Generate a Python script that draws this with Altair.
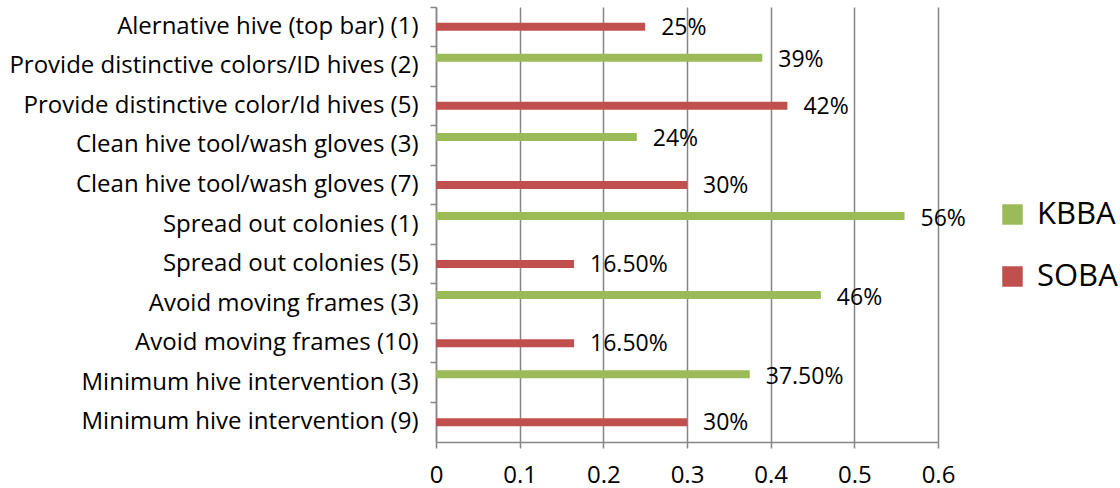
import altair as alt
import pandas as pd

categories = [
    "Alernative hive (top bar) (1)",
    "Provide distinctive colors/ID hives (2)",
    "Provide distinctive color/Id hives (5)",
    "Clean hive tool/wash gloves (3)\u00a0",
    "Clean hive tool/wash gloves (7)",
    "Spread out colonies (1)",
    "Spread out colonies (5)",
    "Avoid moving frames (3)",
    "Avoid moving frames (10)",
    "Minimum hive intervention (3)",
    "Minimum hive intervention (9)",
]
series = ["SOBA", "KBBA", "SOBA", "KBBA", "SOBA", "KBBA", "SOBA", "KBBA", "SOBA", "KBBA", "SOBA"]
values = [0.25, 0.39, 0.42, 0.24, 0.30, 0.56, 0.165, 0.46, 0.165, 0.375, 0.30]
labels = ["25%", "39%", "42%", "24%", "30%", "56%", "16.50%", "46%", "16.50%", "37.50%", "30%"]
x_ticks = [0, 0.1, 0.2, 0.3, 0.4, 0.5, 0.6]

df = pd.DataFrame({"category": categories, "series": series, "value": values, "label": labels})

FONT = "Open Sans"
W, H = 502, 435
FS = 23

y = alt.Y(
    "category:N",
    sort=categories,
    title=None,
    scale=alt.Scale(paddingInner=0, paddingOuter=0),
    axis=alt.Axis(
        bandPosition=0,
        labelFontSize=24,
        labelFont=FONT,
        labelColor="#000000",
        labelPadding=12,
        labelLimit=600,
        tickSize=6,
        tickColor="#868686",
        domainColor="#868686",
        tickWidth=1.5,
        domainWidth=1.5,
        grid=False,
    ),
)
x = alt.X(
    "value:Q",
    title=None,
    scale=alt.Scale(domain=[0, 0.6], nice=False),
    axis=alt.Axis(
        values=x_ticks,
        format="~g",
        labelFlush=False,
        labelFontSize=24,
        labelFont=FONT,
        labelColor="#000000",
        labelPadding=15,
        tickSize=6,
        tickColor="#868686",
        domainColor="#868686",
        gridColor="#868686",
        gridWidth=1.5,
        tickWidth=1.5,
        domainWidth=1.5,
    ),
)
color = alt.Color(
    "series:N",
    scale=alt.Scale(domain=["KBBA", "SOBA"], range=["#9BBB59", "#C0504D"]),
    legend=alt.Legend(
        title=None,
        labelFontSize=31,
        labelFont=FONT,
        labelColor="#000000",
        labelOffset=9,
        symbolType="square",
        symbolSize=420,
        symbolStrokeWidth=0,
        rowPadding=30,
        orient="none",
        legendX=561,
        legendY=192,
        padding=0,
    ),
)

soba = df[df.series == "SOBA"]
kbba = df[df.series == "KBBA"]

bars_s = alt.Chart(soba).mark_bar(size=8).encode(x=x, y=y, color=color)
bars_k = alt.Chart(kbba).mark_bar(size=8, yOffset=-8.5).encode(x=x, y=y, color=color)
text_s = alt.Chart(soba).mark_text(align="left", dx=16, dy=1, fontSize=FS, font=FONT, color="#000000").encode(
    x=x, y=y, text="label:N")
text_k = alt.Chart(kbba).mark_text(align="left", dx=16, dy=-6, fontSize=FS, font=FONT, color="#000000").encode(
    x=x, y=y, text="label:N")

chart = alt.layer(bars_s, bars_k, text_s, text_k).properties(
    width=W, height=H,
    autosize=alt.AutoSizeParams(type="none"),
    padding={"left": 436, "top": 7, "right": 1120 - 436 - W, "bottom": 488 - 7 - H},
).configure_view(stroke=None)

chart.save("out.html", embed_options={"renderer": "svg", "actions": False})
